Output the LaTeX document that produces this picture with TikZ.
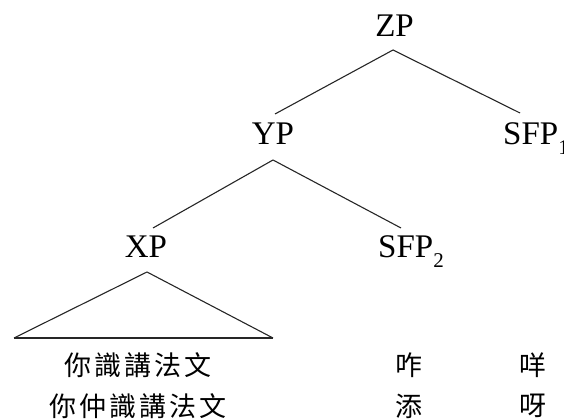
\documentclass[tikz,border=0pt]{standalone}
\usepackage{fontspec}
\setmainfont{Liberation Serif}
\newfontfamily\cjk{Noto Sans CJK TC}
\newcommand{\lowsub}[1]{\raisebox{-10pt}{\fontsize{21}{21}\selectfont #1}}
\begin{document}
\begin{tikzpicture}[x=1pt,y=1pt,
  lab/.style={inner sep=0pt,font=\fontsize{33}{33}\selectfont,anchor=base},
  han/.style={inner sep=0pt,font=\cjk\fontsize{27}{27}\selectfont},
  edge/.style={line width=1.1pt,black!85}]
\useasboundingbox (0,0) rectangle (564,419);
\clip (0,0) rectangle (564,419);
% category labels
\node[lab] (ZP) at (394.5,382) {ZP};
\node[lab] (YP) at (273,274) {YP};
\node[lab,anchor=base west] (SFPa) at (503,274) {SFP\lowsub{1}};
\node[lab] (XP) at (146,161) {XP};
\node[lab,anchor=base west] (SFPb) at (378,161) {SFP\lowsub{2}};
% words
\node[han] (w1) at (138,54) {你\hspace{3pt}識\hspace{3pt}講\hspace{3pt}法\hspace{3pt}文};
\node[han] (w2) at (138,13) {你\hspace{3pt}仲\hspace{3pt}識\hspace{3pt}講\hspace{3pt}法\hspace{3pt}文};
\node[han] (p1) at (409,54) {咋};
\node[han] (p2) at (409,13) {添};
\node[han] (q1) at (533,54) {咩};
\node[han] (q2) at (533,13) {呀};
% branch points
\coordinate (zT) at (393,369);
\coordinate (zL) at (275,305);
\coordinate (zR) at (520,306);
\coordinate (yT) at (273,259);
\coordinate (yL) at (153,191);
\coordinate (yR) at (401,191);
\coordinate (xT) at (147,147);
\coordinate (xL) at (14,81);
\coordinate (xR) at (273,81);
\draw[edge] (zL) -- (zT) -- (zR);
\draw[edge] (yL) -- (yT) -- (yR);
\draw[edge] (xL) -- (xT) -- (xR);
\draw[edge,line width=1.6pt] (xL) -- (xR);
\end{tikzpicture}
\end{document}
